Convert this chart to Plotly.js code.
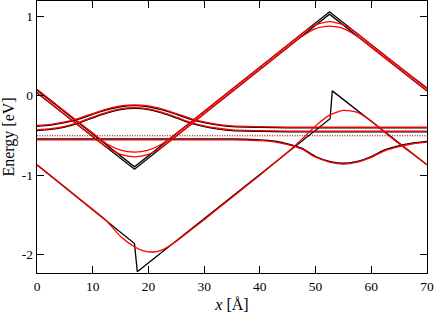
<!DOCTYPE html>
<html>
<head>
<meta charset="utf-8">
<script src="https://cdn.plot.ly/plotly-3.0.1.min.js"></script>
<style>html,body{margin:0;padding:0;background:#fff;}#chart{width:436px;height:313px;}</style>
</head>
<body>
<div id="chart"></div>
<script>
// ---- data ----
const xTicks = [0, 10, 20, 30, 40, 50, 60, 70];
const yTickVals = [-2, -1, 0, 1];
const yTickText = ["-2", "-1", "0", "1"];

// upper sawtooth (black, sharp)
const xBlkUp = [0, 17.5, 52.5, 70];
const yBlkUp1 = [0.07, -0.895, 1.055, 0.09];
const yBlkUp2 = [0.035, -0.925, 1.025, 0.06];

// lower sawtooth (black, sharp with jumps)
const xBlkLow = [0, 17.5, 18.0, 52.6, 53.0, 70];
const yBlkLow = [-0.87, -1.86, -2.215, -0.29, 0.06, -0.87];

// upper sawtooth (red, rounded)
const xRedUp1 = [0, 5, 10, 11, 12.5, 15, 17.5, 20, 22.5, 24, 25, 30, 35, 40, 45, 48, 50, 52.5, 55, 57, 60, 65, 70];
const yRedUp1 = [0.08, -0.196, -0.471, -0.526, -0.605, -0.684, -0.71, -0.684, -0.605, -0.53, -0.477, -0.199, 0.08, 0.358, 0.637, 0.804, 0.891, 0.93, 0.891, 0.806, 0.64, 0.364, 0.10];
const xRedUp2 = [0, 5, 10, 11.9, 12.5, 15, 17.5, 20, 22.5, 23.1, 25, 30, 35, 40, 45, 47, 50, 52.5, 55, 57.9, 60, 65, 70];
const yRedUp2 = [0.04, -0.24, -0.516, -0.62, -0.646, -0.739, -0.77, -0.739, -0.646, -0.614, -0.507, -0.229, 0.05, 0.328, 0.607, 0.718, 0.843, 0.875, 0.843, 0.726, 0.61, 0.334, 0.06];

// lower sawtooth (red, rounded)
const xRedLow = [0, 5, 10, 12.5, 15, 17.5, 19, 20, 21.5, 22.5, 23.5, 25, 27.5, 30, 35, 40, 45, 47.5, 50, 52.5, 55, 57.5, 60, 62.5, 65, 70];
const yRedLow = [-0.87, -1.15, -1.43, -1.575, -1.77, -1.90, -1.95, -1.965, -1.96, -1.94, -1.90, -1.83, -1.695, -1.56, -1.28, -1.00, -0.71, -0.55, -0.38, -0.245, -0.185, -0.21, -0.32, -0.465, -0.605, -0.87];

// upper wavy pair
const xWave = [0, 2.5, 5, 7.5, 10, 12.5, 15, 17.5, 20, 22.5, 25, 27.5, 30, 32.5, 35, 40, 45, 70];
const yWave1 = [-0.385, -0.37, -0.34, -0.295, -0.235, -0.18, -0.14, -0.125, -0.14, -0.18, -0.235, -0.295, -0.34, -0.37, -0.39, -0.40, -0.405, -0.405];
const yWave2 = [-0.44, -0.425, -0.395, -0.345, -0.28, -0.22, -0.175, -0.16, -0.175, -0.22, -0.28, -0.345, -0.39, -0.42, -0.44, -0.45, -0.455, -0.455];

// lower wavy line
const xDip = [0, 30, 35, 37.5, 40, 42.5, 45, 47.5, 50, 52.5, 55, 57.5, 60, 62.5, 65, 67.5, 70];
const yDip = [-0.545, -0.545, -0.545, -0.548, -0.555, -0.57, -0.605, -0.66, -0.765, -0.825, -0.85, -0.825, -0.765, -0.68, -0.63, -0.595, -0.575];

// dotted levels
const xLevel = [0, 70];
const yLevelBlk = [-0.50, -0.50];
const yLevelRed = [-0.508, -0.508];

// ---- traces ----
const W = 1.3;
function shift(arr, d) { return arr.map(v => v + d); }
function tr(x, y, color, opts) {
  return Object.assign({x: x, y: y, mode: 'lines', type: 'scatter', hoverinfo: 'skip',
    line: Object.assign({color: color, width: W}, opts || {})});
}
const traces = [
  tr(xLevel, yLevelBlk, '#444', {dash: '1px,1.5px', width: 0.9}),
  tr(xLevel, yLevelRed, '#e44', {dash: '1px,1.5px', width: 0.9}),
  tr(xBlkUp, yBlkUp1, 'black'),
  tr(xBlkUp, yBlkUp2, 'black'),
  tr(xBlkLow, yBlkLow, 'black'),
  tr(xWave, yWave1, 'black', {shape: 'spline', smoothing: 0.8}),
  tr(xWave, yWave2, 'black', {shape: 'spline', smoothing: 0.8}),
  tr(xDip, yDip, 'black', {shape: 'spline', smoothing: 0.8}),
  tr(xRedUp1, yRedUp1, 'red', {shape: 'spline', smoothing: 0.6}),
  tr(xRedUp2, yRedUp2, 'red', {shape: 'spline', smoothing: 0.6}),
  tr(xRedLow, yRedLow, 'red', {shape: 'spline', smoothing: 0.6}),
  tr(xWave, shift(yWave1, 0.01), 'red', {shape: 'spline', smoothing: 0.8}),
  tr(xWave, shift(yWave2, 0.01), 'red', {shape: 'spline', smoothing: 0.8}),
  tr(xDip, shift(yDip, -0.01), 'red', {shape: 'spline', smoothing: 0.8})
];

const FONT = '"Liberation Serif", "Times New Roman", Times, serif';
const tickFont = {family: FONT, size: 13.5, color: 'black'};
const axisBase = {
  ticks: 'inside', ticklen: 7, tickwidth: 1, tickcolor: 'black',
  showline: true, linecolor: 'black', linewidth: 1.3, mirror: 'ticks',
  showgrid: false, zeroline: false, tickfont: tickFont
};
const layout = {
  width: 436, height: 313,
  margin: {l: 37, r: 9, t: 1, b: 40},
  paper_bgcolor: 'white', plot_bgcolor: 'white',
  font: {family: FONT, color: 'black'},
  showlegend: false,
  xaxis: Object.assign({}, axisBase, {
    range: [0, 70], tickmode: 'array', tickvals: xTicks,
    title: {text: '<i>x</i> [Å]', font: {family: FONT, size: 16, color: 'black'}, standoff: 6}
  }),
  yaxis: Object.assign({}, axisBase, {
    range: [-2.23, 1.19], tickmode: 'array', tickvals: yTickVals, ticktext: yTickText,
    title: {text: 'Energy [eV]', font: {family: FONT, size: 16, color: 'black'}, standoff: 4}
  })
};
Plotly.newPlot('chart', traces, layout, {staticPlot: true, displayModeBar: false});
</script>
</body>
</html>
